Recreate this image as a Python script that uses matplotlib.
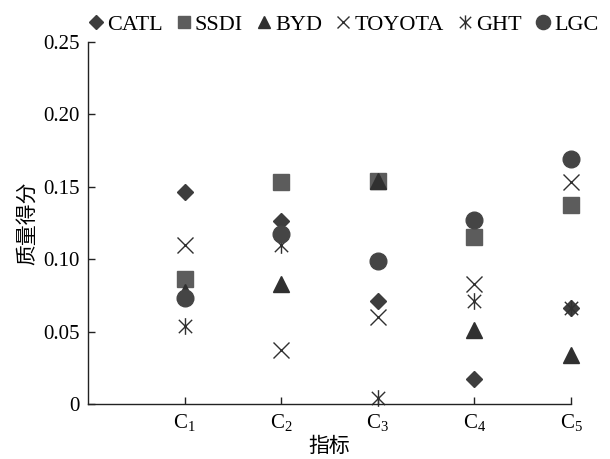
import matplotlib
matplotlib.use("Agg")
import matplotlib.pyplot as plt
from matplotlib.path import Path

plt.rcParams['font.family'] = ['Liberation Serif', 'Noto Sans CJK SC']
plt.rcParams['mathtext.fontset'] = 'custom'
plt.rcParams['mathtext.rm'] = 'Liberation Serif'
plt.rcParams['mathtext.it'] = 'Liberation Serif'

# indicators C1..C5
indicators = [1, 2, 3, 4, 5]
tick_labels = [r'C$_\mathrm{1}$', r'C$_\mathrm{2}$', r'C$_\mathrm{3}$', r'C$_\mathrm{4}$', r'C$_\mathrm{5}$']

catl = [0.146, 0.126, 0.071, 0.017, 0.066]
ssdi = [0.086, 0.153, 0.154, 0.115, 0.137]
byd = [0.077, 0.083, 0.154, 0.051, 0.034]
toyota = [0.110, 0.037, 0.060, 0.083, 0.153]
ght = [0.054, 0.110, 0.004, 0.071, 0.066]
lgc = [0.073, 0.117, 0.099, 0.127, 0.169]

y_ticks = [0, 0.05, 0.10, 0.15, 0.20, 0.25]
y_tick_labels = ['0', '0.05', '0.10', '0.15', '0.20', '0.25']

# x with a vertical bar through it
star = Path([(-0.8, -0.8), (0.8, 0.8), (-0.8, 0.8), (0.8, -0.8), (0, -1), (0, 1)],
            [Path.MOVETO, Path.LINETO, Path.MOVETO, Path.LINETO, Path.MOVETO, Path.LINETO])

fig = plt.figure(figsize=(6.1, 4.59), dpi=100)
ax = fig.add_axes([0.1443, 0.1198, 0.7918, 0.7894])

kw = dict(ls='none', clip_on=False)
ax.plot(indicators, catl, marker='D', ms=8.5, color='#3d3d3d', mec='#3d3d3d', label='CATL', **kw)
ax.plot(indicators, ssdi, marker='s', ms=11, color='#5c5c5c', mec='#5c5c5c', label='SSDI', **kw)
ax.plot(indicators, byd, marker='^', ms=11, color='#303030', mec='#303030', label='BYD', **kw)
ax.plot(indicators, toyota, marker='x', ms=11, mew=1.0, color='#303030', label='TOYOTA', **kw)
ax.plot(indicators, ght, marker=star, ms=12, mew=1.0, color='#303030', mfc='none', label='GHT', **kw)
ax.plot(indicators, lgc, marker='o', ms=12, color='#454545', mec='#454545', label='LGC', **kw)

ax.set_xlim(0, 5)
ax.set_ylim(0, 0.25)
ax.set_xticks(indicators)
ax.set_xticklabels(tick_labels, fontsize=15)
ax.set_yticks(y_ticks)
ax.set_yticklabels(y_tick_labels, fontsize=15)
ax.tick_params(direction='in', length=5, width=1, color='#222222', pad=6)
ax.spines['top'].set_visible(False)
ax.spines['right'].set_visible(False)
for s in ['left', 'bottom']:
    ax.spines[s].set_color('#222222')
    ax.spines[s].set_linewidth(1)

ax.set_xlabel('指标', fontsize=15, labelpad=3)
ax.set_ylabel('质量得分', fontsize=15, labelpad=4)

ax.legend(loc='upper center', bbox_to_anchor=(0.56, 1.0), bbox_transform=fig.transFigure,
          ncol=6, frameon=False, fontsize=16, handletextpad=0.0, columnspacing=0.45,
          handlelength=1.0, borderpad=0.15, markerscale=0.85)

fig.savefig('out.png', dpi=100)
